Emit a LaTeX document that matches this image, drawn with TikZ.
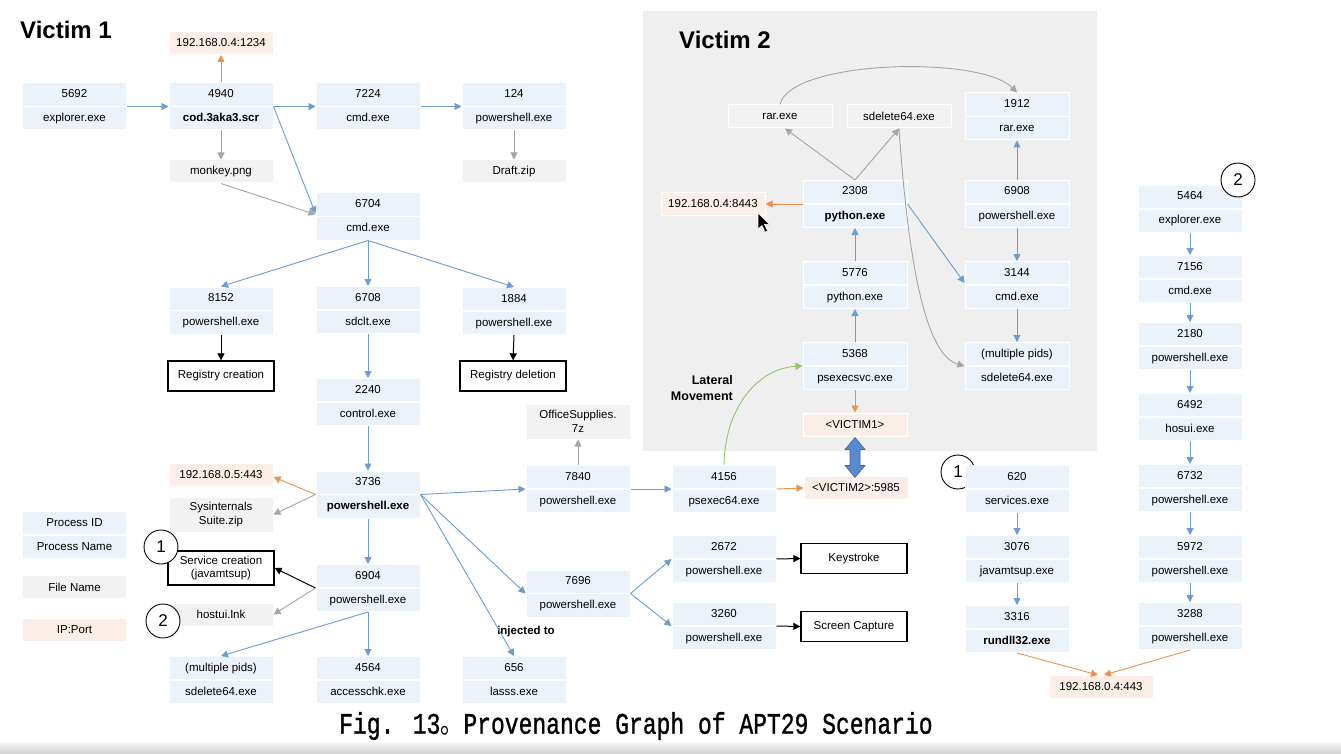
\documentclass[tikz,border=0pt]{standalone}
\usepackage{graphicx}
\usepackage{fontspec}
\setmainfont{Liberation Sans}
\newfontfamily\capfont[FakeBold=1.2]{Liberation Mono}
\newfontfamily\cjk{Noto Sans CJK SC}
\usetikzlibrary{arrows.meta,calc}

\definecolor{pfill}{RGB}{236,242,250}
\definecolor{ffill}{RGB}{242,242,242}
\definecolor{ipfill}{RGB}{251,238,232}
\definecolor{bgray}{RGB}{239,239,239}
\definecolor{eblue}{RGB}{110,155,210}
\definecolor{eorange}{RGB}{235,145,80}
\definecolor{egray}{RGB}{165,165,165}
\definecolor{egreen}{RGB}{150,195,110}
\definecolor{dblue}{RGB}{88,138,205}

\tikzset{
 base/.style={font=\fontsize{11.5}{13.5}\selectfont, inner sep=0pt, align=center},
 pbox/.style={draw=white, line width=1pt, fill=pfill, minimum width=104pt, minimum height=47pt, inner sep=0pt},
 ptxt/.style={base, text height=8pt, text depth=2pt},
 fbox/.style={base, draw=white, line width=1pt, fill=ffill, minimum width=104pt, minimum height=23pt},
 ibox/.style={base, draw=white, line width=1pt, fill=ipfill, minimum width=104pt, minimum height=23pt},
 lbox/.style={base, draw=white, line width=1pt, fill=pfill, minimum width=104pt, minimum height=23pt},
 abox/.style={base, draw=black, line width=1.3pt, fill=white, minimum width=106pt, minimum height=30pt},
 num/.style={circle, draw=black, line width=0.9pt, fill=white, minimum size=34pt, inner sep=0pt, font=\fontsize{17}{17}\selectfont},
 ttl/.style={font=\fontsize{24}{24}\selectfont\bfseries, inner sep=0pt, anchor=west},
 tipa/.style={-{Triangle[length=7pt,width=7pt]}},
 eb/.style={tipa, draw=eblue, line width=0.9pt},
 eo/.style={tipa, draw=eorange, line width=0.9pt},
 eg/.style={tipa, draw=egray, line width=0.9pt},
 ek/.style={tipa, draw=black, line width=1pt},
 egr/.style={tipa, draw=egreen, line width=0.9pt},
}

\newcommand\procnode[4]{%
 \node[pbox] (#1) at (#2) {};
 \draw[white, line width=1.5pt] (#1.west) -- (#1.east);
 \node[ptxt] (#1-id) at ([yshift=12pt]#1.center) {#3};
 \node[ptxt] (#1-nm) at ([yshift=-12pt]#1.center) {#4};
}

\begin{document}
\begin{tikzpicture}[x=1pt,y=-1pt]
\useasboundingbox (0,0) rectangle (1341,754);
\fill[white] (0,0) rectangle (1341,754);
\shade[top color=white, bottom color=black!18] (0,740) rectangle (1341,754);

% Victim 2 background
\fill[bgray] (643,11) rectangle (1097,451);
\node[ttl] (t1) at (20,30) {Victim 1};
\node[ttl] (t2) at (679,40) {Victim 2};

% ---------- Victim 1 ----------
\node[ibox] (ip1234) at (221,43) {192.168.0.4:1234};
\procnode{p5692}{74.5,106.5}{5692}{explorer.exe}
\procnode{p4940}{221,106.5}{4940}{\bfseries cod.3aka3.scr}
\procnode{p7224}{368,106.5}{7224}{cmd.exe}
\procnode{p124}{514,106.5}{124}{powershell.exe}
\node[fbox] (monkey) at (221,171.5) {monkey.png};
\node[fbox] (draft) at (514,171.5) {Draft.zip};
\procnode{p6704}{368,216.5}{6704}{cmd.exe}
\procnode{p8152}{221,310.5}{8152}{powershell.exe}
\procnode{p6708}{368,310}{6708}{sdclt.exe}
\procnode{p1884}{514,311}{1884}{powershell.exe}
\node[abox] (regc) at (221,376) {Registry creation};
\node[abox] (regd) at (513,376) {Registry deletion};
\procnode{p2240}{368,402}{2240}{control.exe}
\node[fbox, minimum height=35pt] (office) at (578,421.5) {OfficeSupplies.\\7z};
\node[ibox] (ip5443) at (221,475) {192.168.0.5:443};
\procnode{p3736}{368,494.5}{3736}{\bfseries powershell.exe}
\node[fbox, minimum height=35pt] (sysint) at (221,514.5) {Sysinternals\\Suite.zip};
\procnode{p7840}{578,489}{7840}{powershell.exe}
\procnode{p4156}{724,489}{4156}{psexec64.exe}
\node[ibox] (v2port) at (856,488) {<VICTIM2>:5985};
\procnode{p7696}{578,593.5}{7696}{powershell.exe}
\procnode{p2672}{724,559}{2672}{powershell.exe}
\procnode{p3260}{724,626}{3260}{powershell.exe}
\node[abox] (keys) at (854,558.5) {Keystroke};
\node[abox] (scap) at (854,626.5) {Screen Capture};
\procnode{p6904}{368,588}{6904}{powershell.exe}
\node[abox, minimum height=34pt] (servc) at (221,568) {Service creation\\(javamtsup)};
\node[fbox] (hostui) at (221,614.5) {hostui.lnk};
\node[num] (c1a) at (161,547) {1};
\node[num] (c2a) at (163,621) {2};
\procnode{psd1}{221,680}{(multiple pids)}{sdelete64.exe}
\procnode{p4564}{368,680}{4564}{accesschk.exe}
\procnode{p656}{514,680}{656}{lasss.exe}
\node[base, font=\fontsize{11.5}{13}\selectfont\bfseries] (inj) at (526,632) {injected to};

% legend
\node[lbox] (lgpid) at (74.5,523) {Process ID};
\node[lbox] (lgpn) at (74.5,547) {Process Name};
\node[fbox] (lgfn) at (74.5,587) {File Name};
\node[ibox] (lgip) at (74.5,630) {IP:Port};

% ---------- Victim 2 ----------
\node[fbox] (rar) at (780,116.5) {rar.exe};
\node[fbox] (sdel) at (899,116.5) {sdelete64.exe};
\procnode{p1912}{1017,116.5}{1912}{rar.exe}
\node[ibox] (ip8443) at (713,204) {192.168.0.4:8443};
\procnode{p2308}{855,204}{2308}{\bfseries python.exe}
\procnode{p6908}{1017,204}{6908}{powershell.exe}
\procnode{p5776}{855,285}{5776}{python.exe}
\procnode{p3144}{1017,285}{3144}{cmd.exe}
\procnode{p5368}{855,366}{5368}{psexecsvc.exe}
\procnode{psd2}{1017,366}{(multiple pids)}{sdelete64.exe}
\node[ibox] (v1) at (855,424.5) {<VICTIM1>};
\node[base, font=\fontsize{12.5}{16}\selectfont\bfseries, align=right, anchor=east] (lat) at (733,388) {Lateral\\Movement};

% ---------- right part ----------
\node[num] (c1b) at (958,472) {1};
\procnode{p620}{1017,489}{620}{services.exe}
\procnode{p3076}{1017,559}{3076}{javamtsup.exe}
\procnode{p3316}{1017,629}{3316}{\bfseries rundll32.exe}
\node[ibox] (ip443) at (1101,687) {192.168.0.4:443};
\procnode{p5464}{1190,209}{5464}{explorer.exe}
\procnode{p7156}{1190,279}{7156}{cmd.exe}
\procnode{p2180}{1190,346}{2180}{powershell.exe}
\procnode{p6492}{1190,417}{6492}{hosui.exe}
\procnode{p6732}{1190,488}{6732}{powershell.exe}
\procnode{p5972}{1190,559}{5972}{powershell.exe}
\procnode{p3288}{1190,626}{3288}{powershell.exe}
\node[num] (c2b) at (1238,180) {2};

% ---------- edges Victim 1 ----------
\draw[eb] (p5692.east) -- (p4940.west);
\draw[eo] (p4940.north) -- (ip1234.south);
\draw[eg] (p4940.south) -- (monkey.north);
\draw[eb] (p4940.east) -- (p7224.west);
\draw[eb] (p4940.east) -- ([yshift=3pt]p6704.west);
\draw[eg] (monkey.south) -- ([yshift=2pt]p6704.west);
\draw[eb] (p7224.east) -- (p124.west);
\draw[eg] (p124.south) -- (draft.north);
\draw[eb] (p6704.south) -- (p8152.north);
\draw[eb] (p6704.south) -- (p6708.north);
\draw[eb] (p6704.south) -- (p1884.north);
\draw[ek] (p8152.south) -- (regc.north);
\draw[ek] (p1884.south) -- (regd.north);
\draw[eb] (p6708.south) -- (p2240.north);
\draw[eb] (p2240.south) -- (p3736.north);
\draw[eo] (p3736.west) -- ([yshift=-2pt]ip5443.east);
\draw[eg] (p3736.west) -- (sysint.east);
\draw[eb] (p3736.east) -- (p7840.west);
\draw[eb] (p3736.east) -- (p7696.west);
\draw[eb] (p3736.east) -- (p656.north);
\draw[eb] (p3736.south) -- (p6904.north);
\draw[eg] (p7840.north) -- (office.south);
\draw[eb] (p7840.east) -- (p4156.west);
\draw[eo] (p4156.east) -- (v2port.west);
\draw[eb] (p7696.east) -- (p2672.west);
\draw[eb] (p7696.east) -- (p3260.west);
\draw[ek] (p2672.east) -- (keys.west);
\draw[ek] (p3260.east) -- (scap.west);
\draw[ek] (p6904.west) -- (servc.east);
\draw[eg] (p6904.west) -- (hostui.east);
\draw[eb] (p6904.south) -- (psd1.north);
\draw[eb] (p6904.south) -- (p4564.north);

% ---------- edges Victim 2 ----------
\draw[eg] (rar.north) .. controls (790,60) and (980,55) .. (p1912.north);
\draw[eg] (p2308.north) -- ([xshift=5pt]rar.south);
\draw[eg] (p2308.north) -- (sdel.south);
\draw[eo] (p2308.west) -- (ip8443.east);
\draw[eb] (p5776.north) -- (p2308.south);
\draw[eb] (p5368.north) -- (p5776.south);
\draw[eo] (p5368.south) -- (v1.north);
\draw[eb] (p6908.north) -- (p1912.south);
\draw[eb] (p6908.south) -- (p3144.north);
\draw[eb] (p3144.south) -- (psd2.north);
\draw[eb] (p2308.east) -- ([yshift=2pt]p3144.west);
\draw[eg] (sdel.south) .. controls (908,260) and (925,355) .. (psd2.west);
\draw[egr] (p4156.north) .. controls (725,405) and (760,368) .. (p5368.west);
\filldraw[fill=dblue, draw=dblue!75!black, line width=0.6pt]
  ([yshift=-1pt]v1.south) -- ++(10,12) -- ++(-5,0) -- ++(0,16) -- ++(5,0) -- ++(-10,12)
  -- ++(-10,-12) -- ++(5,0) -- ++(0,-16) -- ++(-5,0) -- cycle;
% mouse pointer
\filldraw[fill=black, draw=white, line width=0.5pt] (758,213) -- (758,229) -- (762,225.5) -- (765,232) -- (767.5,231) -- (764.5,224.5) -- (769.5,224.5) -- cycle;

% ---------- edges right ----------
\draw[eb] (p620.south) -- (p3076.north);
\draw[eb] (p3076.south) -- (p3316.north);
\draw[eo] (p3316.south) -- ([xshift=-3pt]ip443.north);
\draw[eo] (p3288.south) -- ([xshift=3pt]ip443.north);
\draw[eb] (p5464.south) -- (p7156.north);
\draw[eb] (p7156.south) -- (p2180.north);
\draw[eb] (p2180.south) -- (p6492.north);
\draw[eb] (p6492.south) -- (p6732.north);
\draw[eb] (p6732.south) -- (p5972.north);
\draw[eb] (p5972.south) -- (p3288.north);

% caption
\node[font=\capfont\fontsize{23}{23}\selectfont, anchor=west, inner sep=0pt] (cap) at (339,726) {\scalebox{1}[1.3]{Fig. 13{\cjk 。}Provenance Graph of APT29 Scenario}};
\end{tikzpicture}
\end{document}
